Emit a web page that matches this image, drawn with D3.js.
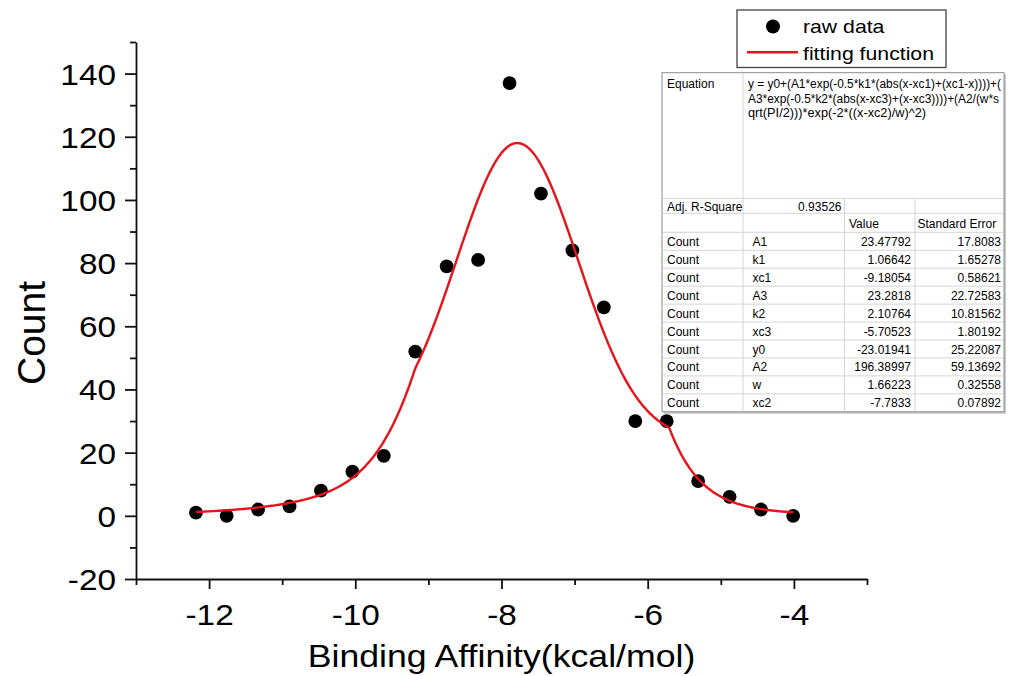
<!DOCTYPE html>
<html>
<head>
<meta charset="utf-8">
<script src="https://cdn.jsdelivr.net/npm/d3@7"></script>
<style>
  body { margin: 0; background: #fff; }
  svg { display: block; }
  text { font-family: Arial, "Liberation Sans", sans-serif; fill: #000; }
</style>
</head>
<body>
<svg id="chart" width="1016" height="676"></svg>
<script>
// ---- data ----
const binCenters = [-12.18, -11.76, -11.33, -10.9, -10.47, -10.04, -9.61, -9.18, -8.75, -8.32,
                    -7.89, -7.46, -7.03, -6.6, -6.17, -5.74, -5.31, -4.88, -4.45, -4.01];
const counts = [1, 0, 2, 3, 8, 14, 19, 52, 79, 81, 137, 102, 84, 66, 30, 30, 11, 6, 2, 0];

// fitted parameters (name, value, standard error)
const paramNames  = ["A1", "k1", "xc1", "A3", "k2", "xc3", "y0", "A2", "w", "xc2"];
const paramValues = ["23.47792", "1.06642", "-9.18054", "23.2818", "2.10764", "-5.70523",
                     "-23.01941", "196.38997", "1.66223", "-7.7833"];
const paramErrors = ["17.8083", "1.65278", "0.58621", "22.72583", "10.81562", "1.80192",
                     "25.22087", "59.13692", "0.32558", "0.07892"];
const adjRSquare = "0.93526";
const equationLines = [
  "y = y0+(A1*exp(-0.5*k1*(abs(x-xc1)+(xc1-x))))+(",
  "A3*exp(-0.5*k2*(abs(x-xc3)+(x-xc3))))+(A2/(w*s",
  "qrt(PI/2)))*exp(-2*((x-xc2)/w)^2)"
];

const xMajorTicks = [-12, -10, -8, -6, -4];
const xMinorTicks = [-13, -11, -9, -7, -5, -3];
const yMajorTicks = [-20, 0, 20, 40, 60, 80, 100, 120, 140];
const yMinorTicks = [-10, 10, 30, 50, 70, 90, 110, 130, 150];
const legendLabels = ["raw data", "fitting function"];
const xTitle = "Binding Affinity(kcal/mol)";
const yTitle = "Count";

// ---- setup ----
const svg = d3.select("#chart");
const SX = 1.15;           // horizontal stretch of chart lettering
const RED = "#e8121c";

const x = d3.scaleLinear().domain([-13, -3]).range([136, 867]);
const y = d3.scaleLinear().domain([-20, 150]).range([579, 42]);

// fitted model evaluated from the table parameters
const P = {};
paramNames.forEach((n, i) => P[n] = +paramValues[i]);
function model(t) {
  const a = P.A1 * Math.exp(-0.5 * P.k1 * (Math.abs(t - P.xc1) + (P.xc1 - t)));
  const b = P.A3 * Math.exp(-0.5 * P.k2 * (Math.abs(t - P.xc3) + (t - P.xc3)));
  const g = (P.A2 / (P.w * Math.sqrt(Math.PI / 2))) * Math.exp(-2 * Math.pow((t - P.xc2) / P.w, 2));
  return P.y0 + a + b + g;
}

// ---- axes ----
const axisW = 1.8;
const gx = svg.append("g").attr("transform", `translate(0,${y(-20)})`)
  .call(d3.axisBottom(x).tickValues(xMajorTicks).tickSize(10).tickSizeOuter(0)
        .tickFormat(d => String(d)));
gx.selectAll("text")
  .attr("y", 46).attr("dy", 0)
  .attr("font-size", 29)
  .attr("transform", `scale(${SX},1)`);
svg.append("g").attr("transform", `translate(0,${y(-20)})`)
  .call(d3.axisBottom(x).tickValues(xMinorTicks).tickSize(6).tickFormat(""))
  .select(".domain").remove();

const gy = svg.append("g").attr("transform", `translate(${x(-13)},0)`)
  .call(d3.axisLeft(y).tickValues(yMajorTicks).tickSize(11).tickSizeOuter(0)
        .tickFormat(d => String(d)));
gy.selectAll("text")
  .attr("x", -20 / SX).attr("dy", "0.36em")
  .attr("font-size", 29)
  .attr("transform", `scale(${SX},1)`);
svg.append("g").attr("transform", `translate(${x(-13)},0)`)
  .call(d3.axisLeft(y).tickValues(yMinorTicks).tickSize(6).tickFormat(""))
  .select(".domain").remove();

svg.selectAll(".domain, .tick line").attr("stroke", "#111").attr("stroke-width", axisW);

// axis titles
svg.append("g").attr("transform", `translate(${(x.range()[0] + x.range()[1]) / 2},667) scale(${SX},1)`)
  .append("text").attr("text-anchor", "middle").attr("font-size", 31).text(xTitle);
svg.append("g").attr("transform", "translate(45,333) rotate(-90)")
  .append("text").attr("text-anchor", "middle").attr("font-size", 39).text(yTitle);

// ---- marks ----
svg.append("g").selectAll("circle").data(binCenters).join("circle")
  .attr("cx", d => x(d))
  .attr("cy", (d, i) => y(counts[i]))
  .attr("r", 6.9)
  .attr("fill", "#000");

const xs = d3.range(0, 411).map(i => binCenters[0] + i * (binCenters[binCenters.length - 1] - binCenters[0]) / 410);
svg.append("path")
  .datum(xs)
  .attr("fill", "none").attr("stroke", RED).attr("stroke-width", 2.4)
  .attr("d", d3.line().x(d => x(d)).y(d => y(model(d))));

// ---- legend ----
const lg = svg.append("g");
lg.append("rect").attr("x", 737).attr("y", 10).attr("width", 209).attr("height", 57.5)
  .attr("fill", "#fff").attr("stroke", "#444").attr("stroke-width", 1.3);
lg.append("circle").attr("cx", 773).attr("cy", 26.5).attr("r", 7).attr("fill", "#000");
lg.append("line").attr("x1", 747).attr("x2", 798).attr("y1", 52.3).attr("y2", 52.3)
  .attr("stroke", RED).attr("stroke-width", 2.4);
legendLabels.forEach((t, i) => {
  lg.append("g").attr("transform", `translate(803,${i === 0 ? 33 : 59.5}) scale(1.18,1)`)
    .append("text").attr("font-size", 18).text(t);
});

// ---- parameter table ----
const tb = svg.append("g");
const cx0 = 662, cx1 = 743, cx2 = 844.5, cx3 = 915, cx4 = 1004;
const ry0 = 72.7, ryEq = 198.3, ryAdj = 213.3, ryHead = 232.3, rowH = 17.95;
const ryEnd = ryHead + rowH * paramNames.length;
const grid = "#d4d4d4", fs = 12;

tb.append("rect").attr("x", cx0 + 2).attr("y", ry0 + 2).attr("width", cx4 - cx0).attr("height", ryEnd - ry0)
  .attr("fill", "#c9c9c9");
tb.append("rect").attr("x", cx0).attr("y", ry0).attr("width", cx4 - cx0).attr("height", ryEnd - ry0)
  .attr("fill", "#fff").attr("stroke", "#8a8a8a").attr("stroke-width", 1);

const hLines = [ryEq, ryAdj, ryHead].concat(d3.range(1, paramNames.length).map(i => ryHead + i * rowH));
tb.selectAll("line.h").data(hLines).join("line").attr("class", "h")
  .attr("x1", cx0 + 1).attr("x2", cx4 - 1).attr("y1", d => d).attr("y2", d => d)
  .attr("stroke", grid).attr("stroke-width", 1);
tb.append("line").attr("x1", cx1).attr("x2", cx1).attr("y1", ry0 + 1).attr("y2", ryEnd - 1)
  .attr("stroke", grid);
[cx2, cx3].forEach(v => tb.append("line").attr("x1", v).attr("x2", v).attr("y1", ryEq).attr("y2", ryEnd - 1)
  .attr("stroke", grid));

const txt = (xp, yp, s, anchor) => tb.append("text").attr("x", xp).attr("y", yp)
  .attr("font-size", fs).attr("text-anchor", anchor || "start").attr("fill", "#111").text(s);

txt(667, 88, "Equation");
const eqWidths = [253, 251, 178];
equationLines.forEach((s, i) => {
  txt(748, 88 + i * 14.6, s).attr("textLength", eqWidths[i]).attr("lengthAdjust", "spacingAndGlyphs");
});
txt(667, 210.5, "Adj. R-Square");
txt(841.5, 210.5, adjRSquare, "end");
txt(849, 228, "Value");
txt(917.5, 228, "Standard Error");
paramNames.forEach((n, i) => {
  const by = ryHead + i * rowH + 13.5;
  txt(667, by, "Count");
  txt(752.5, by, n);
  txt(911, by, paramValues[i], "end");
  txt(1001, by, paramErrors[i], "end");
});
</script>
</body>
</html>
